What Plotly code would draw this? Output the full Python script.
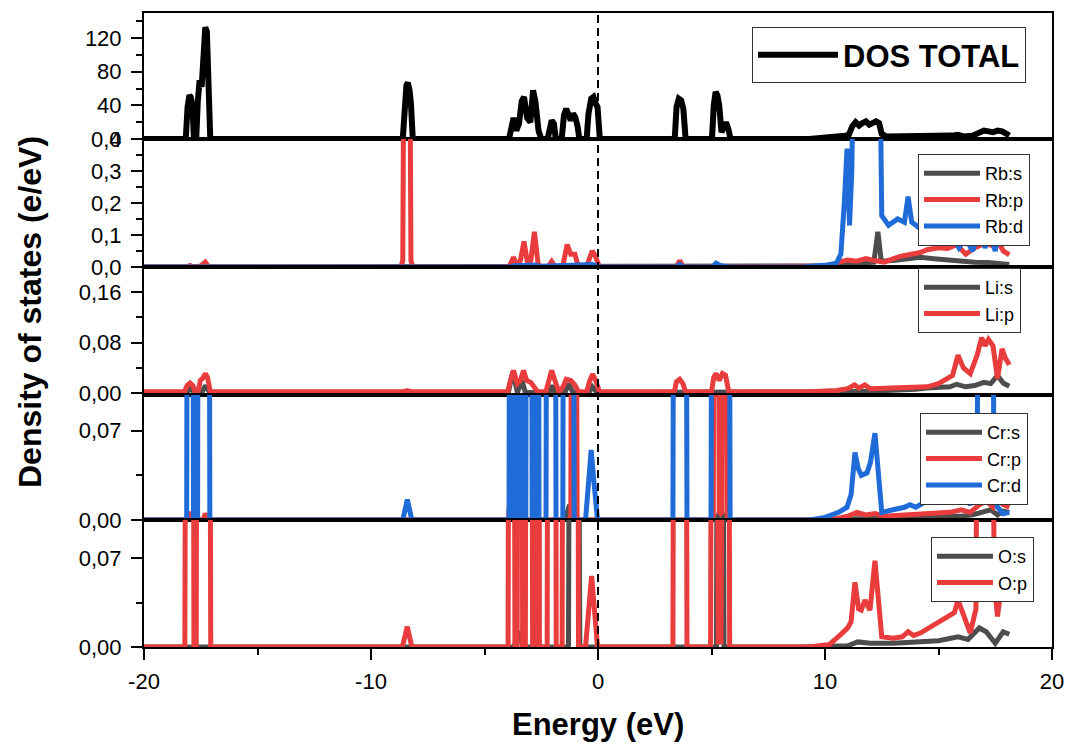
import plotly.graph_objects as go

# ---------------- data ----------------
E_TOT = [-20.0, -18.16, -18.08, -18.0, -17.94, -17.86, -17.8,
         -17.7, -17.63, -17.55, -17.46, -17.38, -17.3, -17.23, -17.16, -17.08,
         -8.6, -8.52, -8.44, -8.38, -8.3, -8.24, -8.16,
         -3.92, -3.84, -3.72, -3.6, -3.48, -3.36, -3.26, -3.12, -2.98, -2.86, -2.76, -2.62, -2.5,
         -2.22, -2.12, -2.04, -1.94, -1.86, -1.6, -1.5, -1.4, -1.3, -1.2, -1.1, -1.0, -0.9, -0.82,
         -0.5, -0.42, -0.3, -0.2, -0.1, -0.02, 0.08,
         3.38, 3.46, 3.56, 3.66, 3.76, 3.86,
         5.02, 5.1, 5.18, 5.26, 5.34, 5.44, 5.56, 5.64, 5.74, 5.84,
         9.3, 9.8, 10.3, 10.7, 10.9, 11.05, 11.2, 11.35, 11.5, 11.65, 11.8, 11.95, 12.1, 12.25, 12.38, 12.5,
         12.7, 13.2, 13.7, 14.2, 14.7, 15.2, 15.6, 15.85, 16.1, 16.5, 16.8, 17.0, 17.2, 17.4, 17.6, 17.8, 18.0, 18.12]
DOS_TOT = [0, 0, 38, 52, 50, 38, 0,
           0, 45, 70, 62, 112, 133, 128, 82, 0,
           0, 40, 64, 67, 58, 42, 0,
           0, 12, 25, 10, 18, 45, 50, 25, 20, 58, 45, 10, 0,
           0, 18, 22, 18, 0, 0, 28, 36, 30, 22, 30, 26, 15, 0,
           0, 30, 48, 50, 42, 38, 0,
           0, 38, 48, 46, 36, 0,
           0, 40, 56, 52, 40, 8, 14, 20, 12, 0,
           0, 1, 1.5, 2.5, 4, 5, 15, 20, 16, 19, 21, 17, 20, 21, 19, 6,
           3, 3, 3.5, 3, 3.5, 3, 4, 5, 3, 4, 7, 10, 9, 8, 10, 9, 6, 4]

E_RB_S = [-20.0, -18.1, -17.97, -17.85, -17.4, -17.3, -17.2, 9.0, 10.0, 10.8, 11.5, 12.15, 12.33, 12.48,
          13.0, 13.6, 14.2, 14.8, 15.4, 16.0, 16.6, 17.2, 17.7, 18.12]
RB_S = [0, 0, 0.004, 0, 0, 0.003, 0, 0, 0.003, 0.008, 0.012, 0.015, 0.11, 0.018,
        0.02, 0.025, 0.03, 0.026, 0.022, 0.018, 0.015, 0.014, 0.01, 0.008]

E_RB_P = [-20.0, -18.1, -17.97, -17.85, -17.5, -17.3, -17.15, -8.68, -8.6, -8.54, -8.3, -8.24, -8.16,
          -3.92, -3.72, -3.56, -3.42, -3.26, -3.1, -2.96, -2.8, -2.64, -2.5, -2.2, -2.04, -1.88,
          -1.56, -1.36, -1.2, -1.02, -0.86, -0.5, -0.36, -0.25, -0.12, 0.06, 3.45, 3.6, 3.76,
          9.5, 10.3, 10.66, 11.0, 11.4, 11.8, 12.2, 12.6, 13.0, 13.3, 13.8, 14.2, 14.5, 15.0, 15.4,
          15.8, 16.2, 16.6, 17.1, 17.4, 17.6, 17.85, 18.12]
RB_P = [0, 0, 0.004, 0, 0.003, 0.015, 0, 0, 0.02, 0.9, 0.9, 0.02, 0,
        0, 0.03, 0.005, 0.02, 0.08, 0.01, 0.02, 0.11, 0.01, 0, 0, 0.017, 0,
        0, 0.07, 0.04, 0.04, 0, 0, 0.03, 0.05, 0.035, 0, 0, 0.02, 0,
        0, 0.003, 0.016, 0.022, 0.018, 0.026, 0.02, 0.015, 0.025, 0.033, 0.04, 0.045, 0.054, 0.06, 0.058,
        0.07, 0.04, 0.06, 0.075, 0.065, 0.085, 0.05, 0.038]

E_RB_D = [-20.0, -18.1, -17.97, -17.3, -17.1, -3.9, -3.7, -3.3, -2.8, -2.5, -1.3, -1.0, -0.25, 0.1,
          3.45, 3.6, 3.75, 5.05, 5.2, 5.4, 5.8, 9.0, 9.6, 10.1, 10.5, 10.7, 10.85, 10.97, 11.08, 11.18,
          11.3, 12.38, 12.5, 12.8, 13.2, 13.5, 13.66, 13.82, 14.2, 14.6, 15.0, 15.3, 15.6, 15.9, 16.2,
          16.5, 16.8, 17.05, 17.3, 17.5, 17.7, 17.9, 18.12]
RB_D = [0, 0, 0.003, 0.003, 0, 0, 0.004, 0.004, 0.006, 0.002, 0.006, 0.004, 0.008, 0,
        0, 0.008, 0, 0, 0.012, 0.004, 0, 0, 0.003, 0.006, 0.012, 0.04, 0.2, 0.37, 0.13, 0.3,
        0.9, 0.9, 0.16, 0.13, 0.15, 0.14, 0.22, 0.14, 0.12, 0.13, 0.09, 0.075, 0.1, 0.06, 0.09,
        0.05, 0.11, 0.06, 0.1, 0.05, 0.13, 0.07, 0.09]

E_LI_S = [-20.0, -18.1, -17.97, -17.8, -17.45, -17.3, -17.1, -3.95, -3.75, -3.55, -3.35, -3.2, -2.15,
          -2.03, -1.9, -1.45, -1.3, -1.1, -0.4, -0.25, -0.05, 9.0, 11.0, 12.0, 13.0, 14.0, 14.5, 15.0,
          15.5, 15.8, 16.2, 16.6, 17.0, 17.3, 17.6, 17.85, 18.12]
LI_S = [0.001, 0.001, 0.01, 0.001, 0.001, 0.012, 0.001, 0.001, 0.034, 0.001, 0.02, 0.001, 0.001,
        0.012, 0.001, 0.001, 0.015, 0.001, 0.001, 0.01, 0.001, 0.001, 0.002, 0.003, 0.004, 0.006, 0.008, 0.009,
        0.01, 0.014, 0.01, 0.012, 0.017, 0.015, 0.028, 0.016, 0.011]

E_LI_P = [-20.0, -18.22, -18.1, -17.97, -17.85, -17.75, -17.62, -17.52, -17.4, -17.3, -17.2, -17.08,
          -8.6, -8.4, -8.2, -3.98, -3.86, -3.72, -3.56, -3.42, -3.28, -3.14, -2.96, -2.82, -2.66,
          -2.3, -2.18, -2.04, -1.9, -1.72, -1.54, -1.4, -1.2, -1.02, -0.86, -0.5, -0.36, -0.24, -0.1, 0.06,
          3.36, 3.46, 3.6, 3.74, 3.86, 5.0, 5.1, 5.2, 5.34, 5.48, 5.62, 5.76,
          9.3, 10.5, 11.0, 11.3, 11.5, 11.76, 12.0, 13.0, 14.0, 14.5, 15.0, 15.4, 15.62, 15.86, 16.1,
          16.4, 16.7, 16.9, 17.05, 17.2, 17.4, 17.6, 17.8, 17.95, 18.12]
LI_P = [0.002, 0.002, 0.012, 0.016, 0.012, 0.002, 0.002, 0.02, 0.024, 0.031, 0.025, 0.002,
        0.002, 0.004, 0.002, 0.002, 0.02, 0.036, 0.015, 0.02, 0.036, 0.02, 0.017, 0.01, 0.002,
        0.002, 0.02, 0.036, 0.02, 0.002, 0.01, 0.022, 0.02, 0.013, 0.002, 0.002, 0.02, 0.03, 0.02, 0.002,
        0.002, 0.018, 0.022, 0.015, 0.002, 0.002, 0.025, 0.031, 0.02, 0.031, 0.028, 0.002,
        0.002, 0.004, 0.007, 0.013, 0.008, 0.013, 0.007, 0.008, 0.008, 0.01, 0.015, 0.022, 0.028, 0.06, 0.04,
        0.031, 0.06, 0.088, 0.075, 0.085, 0.075, 0.023, 0.07, 0.055, 0.045]

E_CR_S = [-20.0, -3.9, -3.72, -3.55, -1.45, -1.25, -1.05, 5.25, 5.4, 5.55, 9.0, 12.0, 14.0, 15.0,
          16.0, 16.5, 17.0, 17.3, 17.6, 17.85, 18.12]
CR_S = [0, 0, 0.005, 0, 0, 0.012, 0, 0, 0.01, 0, 0, 0.001, 0.002, 0.003,
        0.003, 0.004, 0.006, 0.008, 0.004, 0.007, 0.006]

E_CR_P = [-20.0, -18.1, -17.97, -17.8, -17.4, -17.3, -17.15, -3.95, -3.82, -3.7, -3.6,
          -1.2, -1.12, -1.0, -0.92, 5.08, 5.14, 5.26, 5.34, 5.4, 5.46, 5.54, 5.64, 5.7,
          9.0, 10.5, 11.0, 11.4, 11.8, 12.2, 12.6, 13.5, 14.5, 15.5, 16.0, 16.4, 16.8, 17.1, 17.4,
          17.6, 17.85, 18.12]
CR_P = [0, 0, 0.004, 0, 0, 0.005, 0, 0, 0.03, 0.08, 0,
        0, 0.5, 0.5, 0, 0, 0.5, 0.5, 0.006, 0.005, 0.006, 0.5, 0.5, 0,
        0, 0.001, 0.003, 0.006, 0.004, 0.005, 0.003, 0.004, 0.005, 0.006, 0.008, 0.006, 0.012, 0.015, 0.01,
        0.016, 0.012, 0.01]

E_CR_D = [-20.0, -18.12, -18.06, -17.88, -17.82, -17.64, -17.58, -17.16, -17.1,
          -8.6, -8.4, -8.2,
          -3.92, -3.86, -3.76, -3.7, -3.53, -3.47, -3.4, -3.34, -3.18, -3.12, -2.96, -2.9,
          -2.74, -2.7, -2.64, -2.6, -2.29, -2.23, -1.91, -1.85, -1.55, -1.49, -1.11, -1.05,
          -0.55, -0.42, -0.3, -0.18, -0.02,
          3.3, 3.38, 3.84, 3.92, 4.98, 5.06, 5.74, 5.82,
          9.3, 10.0, 10.6, 10.97, 11.15, 11.32, 11.47, 11.6, 11.85, 12.0, 12.2, 12.38, 12.5, 13.0, 13.5,
          13.74, 14.0, 14.5, 15.0, 15.5, 16.0, 16.4, 16.7, 16.82, 17.3, 17.45, 17.6, 17.85, 18.12]
CR_D = [0, 0, 0.6, 0.6, 0, 0, 0.6, 0.6, 0,
        0, 0.016, 0,
        0, 0.6, 0.6, 0, 0, 0.6, 0.6, 0, 0, 0.6, 0.6, 0,
        0, 0.6, 0.6, 0, 0, 0.6, 0.6, 0, 0, 0.6, 0.6, 0,
        0, 0.03, 0.055, 0.03, 0,
        0, 0.6, 0.6, 0, 0, 0.6, 0.6, 0,
        0, 0.002, 0.006, 0.01, 0.02, 0.053, 0.04, 0.035, 0.037, 0.045, 0.068, 0.03, 0.006, 0.008, 0.01,
        0.012, 0.01, 0.015, 0.02, 0.022, 0.02, 0.012, 0.03, 0.5, 0.5, 0.02, 0.01, 0.005, 0.006]

E_O_S = [-20.0, -3.7, -3.5, -3.3, -1.3, -1.2, -0.95, -0.8, 5.22, 5.3, 5.45, 5.55, 9.0, 11.0, 11.45,
         12.0, 13.0, 14.0, 15.0, 15.86, 16.3, 16.8, 17.1, 17.5, 17.85, 18.12]
O_S = [0, 0, 0.012, 0, 0, 0.6, 0.6, 0, 0, 0.6, 0.6, 0, 0, 0.001, 0.004,
       0.003, 0.003, 0.004, 0.005, 0.008, 0.006, 0.015, 0.012, 0.003, 0.012, 0.01]

E_O_P = [-20.0, -18.2, -18.12, -17.86, -17.8, -17.7, -17.64, -17.14, -17.06,
         -8.62, -8.4, -8.2,
         -3.96, -3.9, -3.72, -3.66, -3.56, -3.5, -3.38, -3.32, -3.2, -3.14, -2.94, -2.88,
         -2.76, -2.72, -2.62, -2.58, -2.24, -2.18, -1.9, -1.84, -1.58, -1.52, -0.92, -0.86,
         -0.55, -0.42, -0.28, -0.16, -0.02,
         3.3, 3.38, 3.84, 3.92, 4.96, 5.04, 5.16, 5.3, 5.42, 5.56, 5.72, 5.8,
         9.3, 10.2, 10.7, 11.0, 11.15, 11.32, 11.48, 11.6, 11.76, 11.98, 12.2, 12.36, 12.5, 13.0, 13.4,
         13.66, 13.9, 14.2, 14.8, 15.4, 15.7, 15.86, 16.1, 16.4, 16.65, 16.8, 17.3, 17.45, 17.6, 17.75,
         17.85, 17.95, 18.12]
O_P = [0, 0, 0.6, 0.6, 0, 0, 0.6, 0.6, 0,
       0, 0.016, 0,
       0, 0.6, 0.6, 0, 0, 0.6, 0.6, 0, 0, 0.6, 0.6, 0,
       0, 0.6, 0.6, 0, 0, 0.6, 0.6, 0, 0, 0.6, 0.6, 0,
       0, 0.03, 0.056, 0.03, 0,
       0, 0.6, 0.6, 0, 0, 0.6, 0.6, 0.004, 0.004, 0.6, 0.6, 0,
       0, 0.002, 0.01, 0.015, 0.02, 0.051, 0.03, 0.029, 0.037, 0.029, 0.068, 0.03, 0.008, 0.007, 0.008,
       0.012, 0.009, 0.011, 0.017, 0.023, 0.027, 0.037, 0.025, 0.011, 0.03, 0.6, 0.6, 0.05, 0.024, 0.045,
       0.075, 0.05, 0.037]

for a, b in [(E_TOT, DOS_TOT), (E_RB_S, RB_S), (E_RB_P, RB_P), (E_RB_D, RB_D), (E_LI_S, LI_S),
             (E_LI_P, LI_P), (E_CR_S, CR_S), (E_CR_P, CR_P), (E_CR_D, CR_D), (E_O_S, O_S), (E_O_P, O_P)]:
    assert len(a) == len(b), (len(a), len(b), a[:3])

# ---------------- style ----------------
FONT = "Liberation Sans, Arial, sans-serif"
BLACK = "#000000"
GRAY = "#4d4d4d"
RED = "#e93c3c"
BLUE = "#1f6bd8"
LW = 5

fig = go.Figure()

def add(x, y, name, color, ax, legend, width=LW):
    fig.add_trace(go.Scatter(x=x, y=y, name=name, mode="lines",
                             line=dict(color=color, width=width),
                             xaxis="x" + ax, yaxis="y" + ax, legend=legend))

add(E_TOT, DOS_TOT, "DOS TOTAL", BLACK, "", "legend", width=6)
add(E_RB_S, RB_S, "Rb:s", GRAY, "2", "legend2")
add(E_RB_P, RB_P, "Rb:p", RED, "2", "legend2")
add(E_RB_D, RB_D, "Rb:d", BLUE, "2", "legend2")
add(E_LI_S, LI_S, "Li:s", GRAY, "3", "legend3")
add(E_LI_P, LI_P, "Li:p", RED, "3", "legend3")
add(E_CR_S, CR_S, "Cr:s", GRAY, "4", "legend4")
add(E_CR_P, CR_P, "Cr:p", RED, "4", "legend4")
add(E_CR_D, CR_D, "Cr:d", BLUE, "4", "legend4")
add(E_O_S, O_S, "O:s", GRAY, "5", "legend5")
add(E_O_P, O_P, "O:p", RED, "5", "legend5")

# panel geometry (paper fractions)
bounds = [1.0, 0.8013, 0.5994, 0.3975, 0.2003, 0.0]
yranges = [[0, 150], [0, 0.4], [-0.003, 0.2], [0, 0.098], [0, 0.1]]
ytickvals = [[0, 40, 80, 120], [0, 0.1, 0.2, 0.3, 0.4], [0, 0.08, 0.16], [0, 0.07], [0, 0.07]]
yticktext = [["0", "40", "80", "120"], ["0,0", "0,1", "0,2", "0,3", "0,4"],
             ["0,00", "0,08", "0,16"], ["0,00", "0,07"], ["0,00", "0,07"]]
yminor = [[20, 60, 100, 140], [0.05, 0.15, 0.25, 0.35], [0.04, 0.12], [0.035], [0.035]]

tickfont = dict(family=FONT, size=22, color=BLACK)
layout = dict(
    width=1069, height=747,
    margin=dict(l=144, r=17, t=13, b=100, autoexpand=False),
    paper_bgcolor="white", plot_bgcolor="white",
    showlegend=True,
)
for i in range(5):
    sfx = "" if i == 0 else str(i + 1)
    layout["yaxis" + sfx] = dict(
        domain=[bounds[i + 1], bounds[i]], range=yranges[i], anchor="x" + sfx,
        tickmode="array", tickvals=ytickvals[i], ticktext=yticktext[i],
        ticks="outside", ticklen=11, tickwidth=2, tickcolor=BLACK,
        minor=dict(tickmode="array", tickvals=yminor[i], ticks="outside", ticklen=6,
                   tickwidth=2, tickcolor=BLACK),
        showline=True, linewidth=2, linecolor=BLACK, mirror=True,
        showgrid=False, zeroline=False, tickfont=tickfont, ticklabelstandoff=5,
    )
    xa = dict(range=[-20, 20], anchor="y" + sfx, showline=True, linewidth=2, linecolor=BLACK,
              mirror=True, showgrid=False, zeroline=False)
    if i < 4:
        xa.update(showticklabels=False, ticks="", matches="x5")
    else:
        xa.update(tickmode="array", tickvals=[-20, -10, 0, 10, 20],
                  ticktext=["-20", "-10", "0", "10", "20"],
                  ticks="outside", ticklen=11, tickwidth=2, tickcolor=BLACK,
                  minor=dict(tickmode="array", tickvals=[-15, -5, 5, 15], ticks="outside",
                             ticklen=6, tickwidth=2, tickcolor=BLACK),
                  tickfont=tickfont, ticklabelstandoff=3)
    layout["xaxis" + sfx] = xa

def px2x(px):
    return (px - 144) / 908.0

def py2y(py):
    return (647 - py) / 634.0

leg_common = dict(bgcolor="white", bordercolor="#333333", borderwidth=1,
                  xanchor="left", yanchor="top", itemwidth=56, tracegroupgap=0)
layout["legend"] = dict(leg_common, x=px2x(752), y=py2y(27), itemwidth=80,
                        font=dict(family=FONT, size=31, color=BLACK, weight="bold"))
layout["legend2"] = dict(leg_common, x=px2x(918), y=py2y(154),
                         font=dict(family=FONT, size=18, color=BLACK))
layout["legend3"] = dict(leg_common, x=px2x(918), y=py2y(268),
                         font=dict(family=FONT, size=18, color=BLACK))
layout["legend4"] = dict(leg_common, x=px2x(920), y=py2y(413),
                         font=dict(family=FONT, size=18, color=BLACK))
layout["legend5"] = dict(leg_common, x=px2x(931), y=py2y(537),
                         font=dict(family=FONT, size=18, color=BLACK))

layout["shapes"] = [dict(type="line", xref="x5", yref="paper", x0=0, x1=0, y0=0, y1=1,
                         line=dict(color=BLACK, width=2, dash="8px,5px"), layer="above")]
layout["annotations"] = [
    dict(text="Energy (eV)", xref="paper", yref="paper", x=0.5, y=py2y(725),
         xanchor="center", yanchor="middle", showarrow=False,
         font=dict(family=FONT, size=31, color=BLACK, weight="bold")),
    dict(text="Density of states (e/eV)", xref="paper", yref="paper", x=px2x(30), y=py2y(312),
         xanchor="center", yanchor="middle", showarrow=False, textangle=-90,
         font=dict(family=FONT, size=32, color=BLACK, weight="bold")),
]
fig.update_layout(layout)
fig.write_html("out.html")
